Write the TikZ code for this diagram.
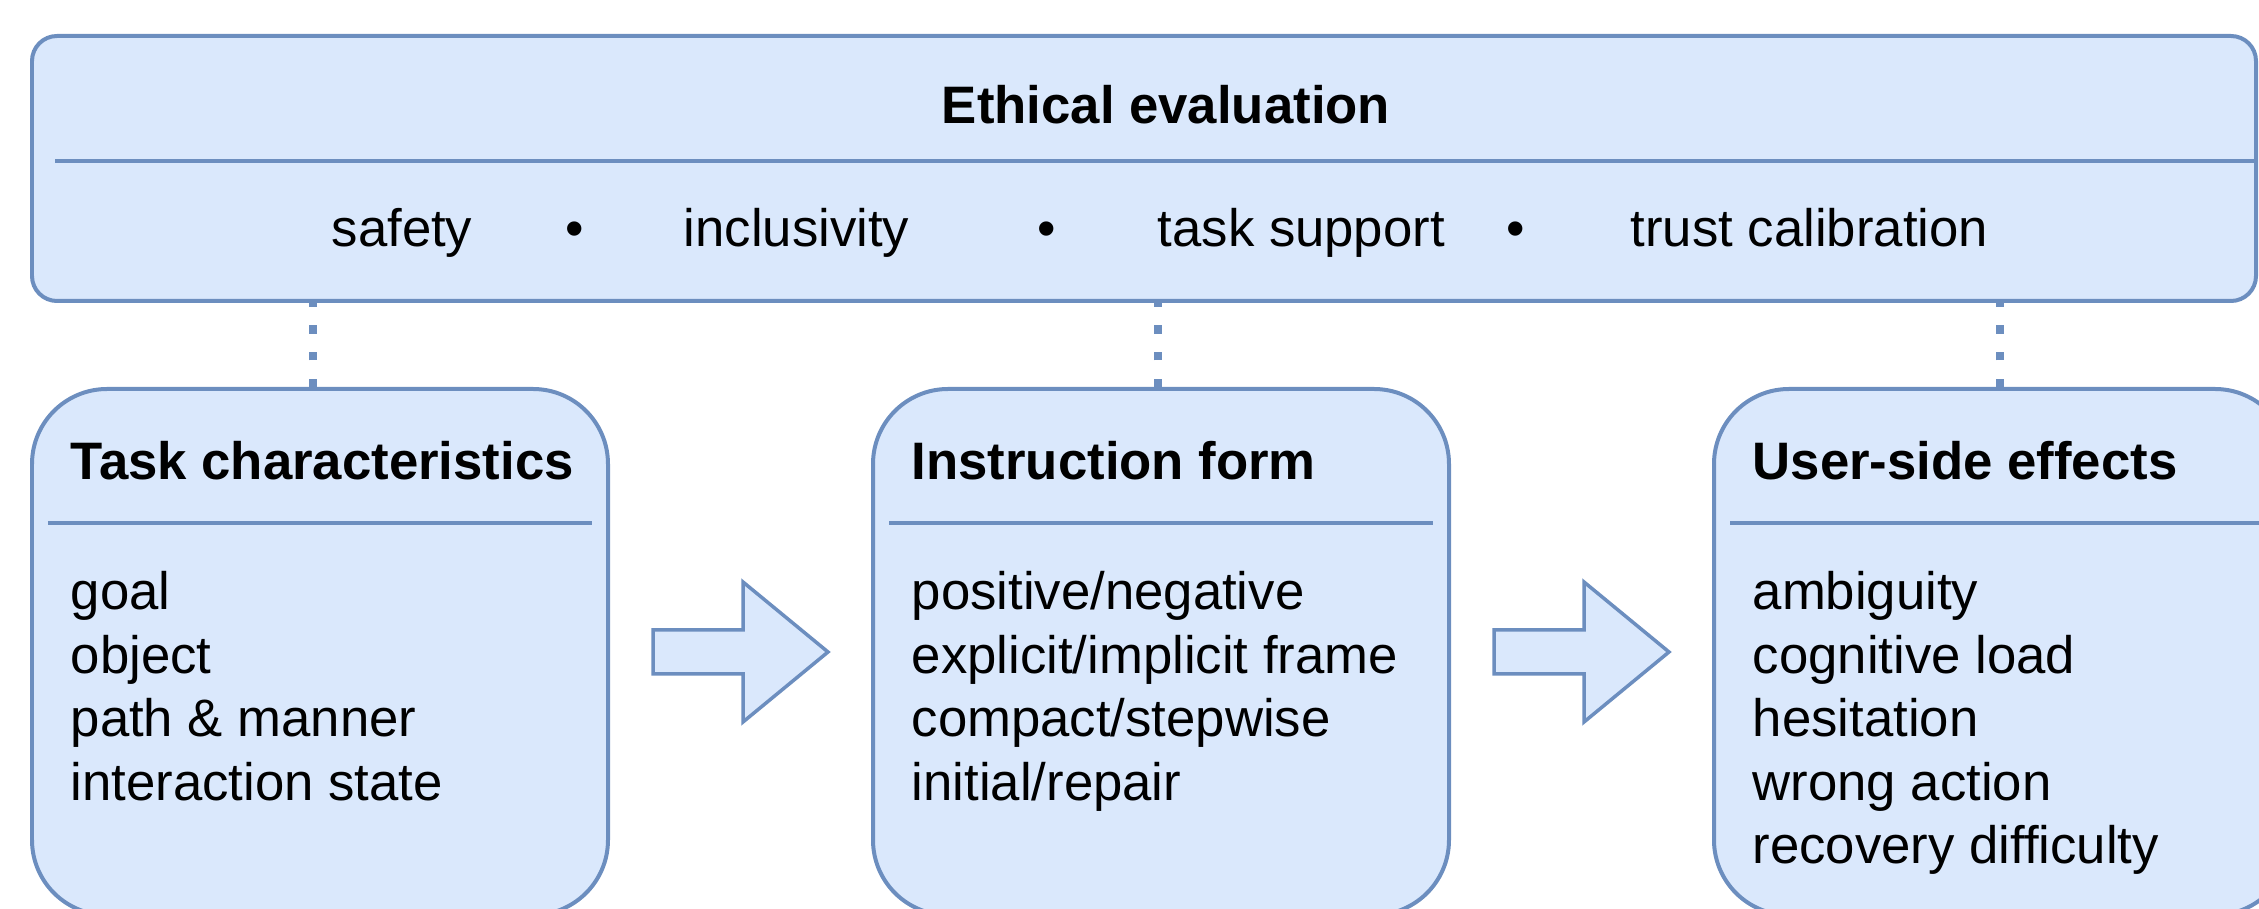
\documentclass[tikz,border=0pt]{standalone}
\usepackage{fontspec}
\setmainfont{Liberation Sans}
\definecolor{boxfill}{HTML}{DAE8FC}
\definecolor{boxline}{HTML}{6C8EBF}
\tikzset{
  panel/.style={draw=boxline, fill=boxfill, line width=0.04cm, rounded corners=0.75cm,
    minimum width=5.76cm, minimum height=5.26cm, inner sep=0pt},
  evalbox/.style={panel, rounded corners=0.25cm, minimum width=22.24cm, minimum height=2.65cm},
  sepline/.style={draw=boxline, line width=0.04cm},
  link/.style={draw=boxline, line width=0.08cm, dash pattern=on 0.083cm off 0.184cm},
  flowarrow/.style={draw=boxline, fill=boxfill, line width=0.035cm, line join=miter},
  txt/.style={inner sep=0pt, anchor=base west, font=\fontsize{15}{18}\selectfont},
  headtxt/.style={txt, font=\fontsize{15}{18}\selectfont\bfseries}
}
\begin{document}
\begin{tikzpicture}
  \useasboundingbox (0,0) rectangle (22.59,9.09);
  \clip (0,0) rectangle (22.59,9.09);
  %%%%%%%%%%%%%The evaluation band%%%%%%%%%%%%%%%%%%%%%%
  \node[evalbox] (eval) at (11.44,7.405) {};
  \draw[sepline] (0.55,7.48) -- (22.56,7.48);
  \node[headtxt, anchor=base] (evaltitle) at (11.66,7.85) {Ethical evaluation};
  \node[txt] (safety) at (3.31,6.62) {safety};
  \node[txt, anchor=base] (dot1) at (5.75,6.62) {•};
  \node[txt] (inclus) at (6.83,6.62) {inclusivity};
  \node[txt, anchor=base] (dot2) at (10.47,6.62) {•};
  \node[txt] (support) at (11.57,6.62) {task support};
  \node[txt, anchor=base] (dot3) at (15.16,6.62) {•};
  \node[txt] (trust) at (16.30,6.62) {trust calibration};

  %%%%%%%%%%%%%The three panels%%%%%%%%%%%%%%%%%%%%%%
  \node[panel] (task) at (3.20,2.57) {};
  \node[panel] (instr) at (11.61,2.57) {};
  \node[panel] (user) at (20.02,2.57) {};

  \draw[sepline] (0.48,3.86) -- (5.92,3.86);
  \draw[sepline] (8.89,3.86) -- (14.33,3.86);
  \draw[sepline] (17.30,3.86) -- (22.74,3.86);

  \node[headtxt] (taskhead) at (0.70,4.29) {Task characteristics};
  \node[headtxt] (instrhead) at (9.11,4.29) {Instruction form};
  \node[headtxt] (userhead) at (17.52,4.29) {User-side effects};

  \foreach \t [count=\i] in {goal, object, path \& manner, interaction state}
    \node[txt] (task-\i) at (0.70,{2.99-0.635*(\i-1)}) {\t};
  \foreach \t [count=\i] in {positive/negative, explicit/implicit frame, compact/stepwise, initial/repair}
    \node[txt] (instr-\i) at (9.11,{2.99-0.635*(\i-1)}) {\t};
  \foreach \t [count=\i] in {ambiguity, cognitive load, hesitation, wrong action, recovery difficulty}
    \node[txt] (user-\i) at (17.52,{2.99-0.635*(\i-1)}) {\t};

  %%%%%%%%%%%%%Dotted links%%%%%%%%%%%%%%%%%%%%%%
  \coordinate (c1) at (3.13,0);
  \coordinate (c2) at (11.58,0);
  \coordinate (c3) at (20.00,0);
  \draw[link] (task.north -| c1) -- (eval.south -| c1);
  \draw[link] (instr.north -| c2) -- (eval.south -| c2);
  \draw[link] (user.north -| c3) -- (eval.south -| c3);

  %%%%%%%%%%%%%Block arrows%%%%%%%%%%%%%%%%%%%%%%
  \foreach \dx in {0,8.41}
    \draw[flowarrow, xshift=\dx cm] (6.53,2.79) -- (7.43,2.79) -- (7.43,3.27) -- (8.28,2.57)
      -- (7.43,1.87) -- (7.43,2.35) -- (6.53,2.35) -- cycle;
\end{tikzpicture}
\end{document}
